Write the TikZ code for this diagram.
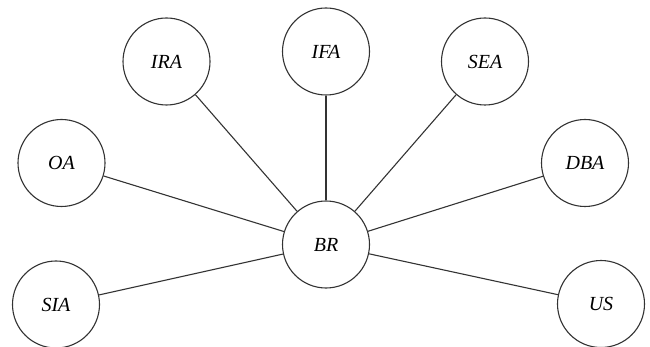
\documentclass[tikz,border=0pt]{standalone}
\usepackage{fontspec}
\setmainfont{Liberation Serif}
\begin{document}
\begin{tikzpicture}[x=1pt,y=-1pt,
  circ/.style={draw=black!80,line width=1.1pt,circle,minimum size=87pt,inner sep=0pt,
    font=\fontsize{20}{24}\selectfont\itshape,fill=white},
  link/.style={draw=black!80,line width=1.1pt}]
\useasboundingbox (0,0) rectangle (650,347);
\node[circ] (BR) at (326,244.5) {BR};
\node[circ] (IRA) at (166.5,61.5) {IRA};
\node[circ] (IFA) at (326,51.5) {IFA};
\node[circ] (SEA) at (485,61.5) {SEA};
\node[circ] (OA) at (61.5,163) {OA};
\node[circ] (DBA) at (585,163) {DBA};
\node[circ] (SIA) at (56,304.5) {SIA};
\node[circ] (US) at (601,304) {US};
\foreach \n in {IRA,IFA,SEA,OA,DBA,SIA,US}{\draw[link] (BR) -- (\n);}
\end{tikzpicture}
\end{document}
